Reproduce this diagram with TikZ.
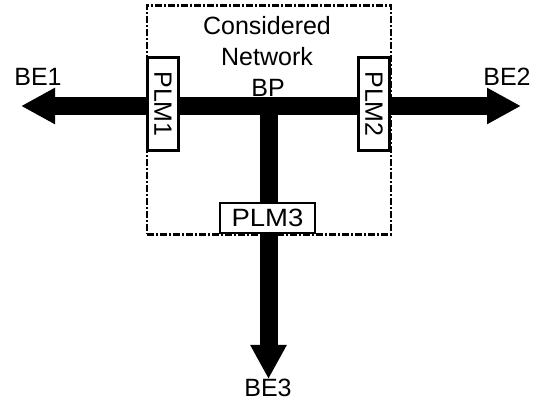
\documentclass[tikz,border=0pt]{standalone}
\usepackage{fontspec}
\setmainfont{Liberation Sans}
\usetikzlibrary{arrows.meta}
\begin{document}
\begin{tikzpicture}[x=1pt,y=-1pt,
  lbl/.style={font=\fontsize{25}{28}\selectfont, inner sep=0pt},
  plmbox/.style={draw, line width=2.6pt, fill=white, inner sep=0pt, font=\fontsize{25}{28}\selectfont},
  busline/.style={line width=18pt, -{Triangle[width=34pt,length=34pt]}},
  netbox/.style={draw, line width=2.4pt, dash pattern=on 7pt off 2pt on 2pt off 2pt}
]
\useasboundingbox (0,0) rectangle (544,403);
% considered network boundary
\node[netbox, minimum width=244pt, minimum height=229pt, inner sep=0pt] (net) at (269,120) {};
% junction and end points
\coordinate (jct) at (268.5,106);
\coordinate (e1) at (21,106);
\coordinate (e2) at (521,106);
\coordinate (e3) at (268.5,379);
\draw[busline] (jct) -- (e1);
\draw[busline] (jct) -- (e2);
\draw[busline] ([yshift=-9pt]jct) -- (e3);
% PLM boxes
\node[plmbox, minimum width=31pt, minimum height=93pt] (plm1) at (163,104) {};
\node[rotate=-90, inner sep=0pt, font=\fontsize{25}{28}\selectfont] at (plm1) {PLM1};
\node[plmbox, minimum width=31pt, minimum height=93pt] (plm2) at (374,104) {};
\node[rotate=-90, inner sep=0pt, font=\fontsize{25}{28}\selectfont] at (plm2) {PLM2};
\node[plmbox, minimum width=95pt, minimum height=30pt] (plm3) at (267.5,218) {\scalebox{1.1}[1]{PLM3}};
% labels
\node[lbl] (title) at (267,26) {Considered};
\node[lbl] (title2) at (267,57) {Network};
\node[lbl] (bp) at (268,88) {BP};
\node[lbl] (be1) at (38,77) {BE1};
\node[lbl] (be2) at (507,77) {BE2};
\node[lbl] (be3) at (268,388) {BE3};
\end{tikzpicture}
\end{document}
